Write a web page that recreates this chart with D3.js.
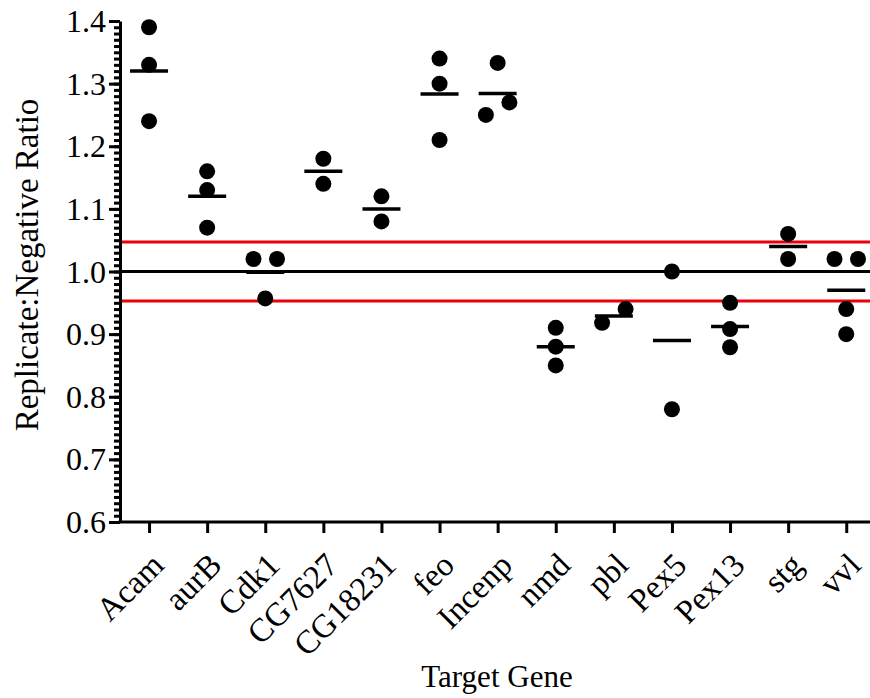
<!DOCTYPE html>
<html>
<head>
<meta charset="utf-8">
<script src="https://cdn.jsdelivr.net/npm/d3@7"></script>
<style>
body { margin: 0; background: #fff; }
svg text { font-family: "Liberation Serif", "Times New Roman", Times, serif !important; fill: #000; }
</style>
</head>
<body>
<svg></svg>
<script>
// gene names along the x axis
var genes = ["Acam", "aurB", "Cdk1", "CG7627", "CG18231", "feo", "Incenp", "nmd", "pbl", "Pex5", "Pex13", "stg", "vvl"];

// replicate ratios, one list per gene
var acam = [1.39, 1.33, 1.24];
var aurB = [1.16, 1.13, 1.07];
var cdk1 = [1.02, 1.02, 0.957];
var cg7627 = [1.18, 1.14];
var cg18231 = [1.12, 1.08];
var feo = [1.34, 1.30, 1.21];
var incenp = [1.333, 1.27, 1.25];
var nmd = [0.91, 0.88, 0.85];
var pbl = [0.918, 0.94];
var pex5 = [1.00, 0.78];
var pex13 = [0.95, 0.908, 0.879];
var stg = [1.06, 1.02];
var vvl = [1.02, 1.02, 0.94, 0.90];
var replicates = [acam, aurB, cdk1, cg7627, cg18231, feo, incenp, nmd, pbl, pex5, pex13, stg, vvl];

var yTicks = [0.6, 0.7, 0.8, 0.9, 1.0, 1.1, 1.2, 1.3, 1.4];
var baseline = 1.0;
var cutoffs = [1.047, 0.953];

var screen = {width: 870, height: 698};
var margins = {top: 21, left: 120, bottom: 176};

var svg = d3.select("svg")
    .attr("width", screen.width)
    .attr("height", screen.height);

var height = screen.height - margins.top - margins.bottom;

var xScale = d3.scalePoint()
    .domain(genes)
    .range([margins.left, margins.left + 13 * 58.1])
    .padding(0.5);

var yScale = d3.scaleLinear()
    .domain([0.6, 1.4])
    .range([margins.top + height, margins.top]);

// reference lines
svg.append("line")
    .attr("x1", margins.left).attr("x2", screen.width)
    .attr("y1", yScale(baseline)).attr("y2", yScale(baseline))
    .attr("stroke", "black").attr("stroke-width", 3);

svg.selectAll(".cutoff")
    .data(cutoffs)
    .enter().append("line")
    .attr("class", "cutoff")
    .attr("x1", margins.left).attr("x2", screen.width)
    .attr("y1", function(d){ return yScale(d); })
    .attr("y2", function(d){ return yScale(d); })
    .attr("stroke", "#e8000b").attr("stroke-width", 3);

// y axis: minor ticks then major ticks
var minor = d3.range(60, 141).map(function(d){ return d / 100; });
svg.append("g")
    .attr("transform", "translate(" + margins.left + ",0)")
    .call(d3.axisLeft(yScale).tickValues(minor).tickSize(6).tickFormat(""))
    .call(function(g){
        g.select(".domain").remove();
        g.selectAll("line").attr("stroke-width", 3);
    });

var yAxis = svg.append("g")
    .attr("transform", "translate(" + margins.left + ",0)")
    .call(d3.axisLeft(yScale).tickValues(yTicks).tickSize(11).tickSizeOuter(0).tickPadding(3).tickFormat(d3.format(".1f")));
yAxis.select(".domain").attr("stroke-width", 3);
yAxis.selectAll("line").attr("stroke-width", 3);
yAxis.selectAll("text").style("font-size", "32px").attr("dy", "0.33em");

// x axis
var xAxis = svg.append("g")
    .attr("transform", "translate(0," + (margins.top + height) + ")")
    .call(d3.axisBottom(xScale).tickSize(11).tickSizeOuter(0));
xAxis.select(".domain").attr("d", "M" + (margins.left - 1.5) + ",0H" + screen.width).attr("stroke-width", 3);
xAxis.selectAll("line").attr("stroke-width", 3);
xAxis.selectAll("text")
    .style("font-size", "33px")
    .attr("text-anchor", "end")
    .attr("x", 0).attr("y", 0).attr("dy", 0)
    .attr("transform", "translate(16,45) rotate(-45)");

// spread replicates that would overlap
var spread = function(values){
    var sorted = values.map(function(v, i){ return {v: v, i: i}; })
        .sort(function(a, b){ return a.v - b.v; });
    var clusters = [];
    sorted.forEach(function(p){
        var last = clusters[clusters.length - 1];
        if (last && Math.abs(yScale(p.v) - yScale(last[last.length - 1].v)) < 15) last.push(p);
        else clusters.push([p]);
    });
    var out = [];
    clusters.forEach(function(c){
        c.forEach(function(p, k){
            out.push({v: p.v, dx: (k - (c.length - 1) / 2) * 23.5});
        });
    });
    return out;
};

var groups = svg.selectAll(".gene")
    .data(genes)
    .enter().append("g")
    .attr("class", "gene")
    .attr("transform", function(d){ return "translate(" + xScale(d) + ",0)"; });

groups.each(function(gene, i){
    var g = d3.select(this);
    var vals = replicates[i];
    g.selectAll("circle")
        .data(spread(vals))
        .enter().append("circle")
        .attr("cx", function(d){ return d.dx; })
        .attr("cy", function(d){ return yScale(d.v); })
        .attr("r", 8)
        .attr("fill", "black");
    var m = d3.mean(vals);
    g.append("line")
        .attr("x1", -19).attr("x2", 19)
        .attr("y1", yScale(m)).attr("y2", yScale(m))
        .attr("stroke", "black").attr("stroke-width", 3.5);
});

// axis titles
svg.append("text")
    .attr("transform", "translate(38,265) rotate(-90)")
    .attr("text-anchor", "middle")
    .style("font-size", "33px")
    .text("Replicate:Negative Ratio");

svg.append("text")
    .attr("x", 497)
    .attr("y", 687)
    .attr("text-anchor", "middle")
    .style("font-size", "31px")
    .text("Target Gene");
</script>
</body>
</html>
